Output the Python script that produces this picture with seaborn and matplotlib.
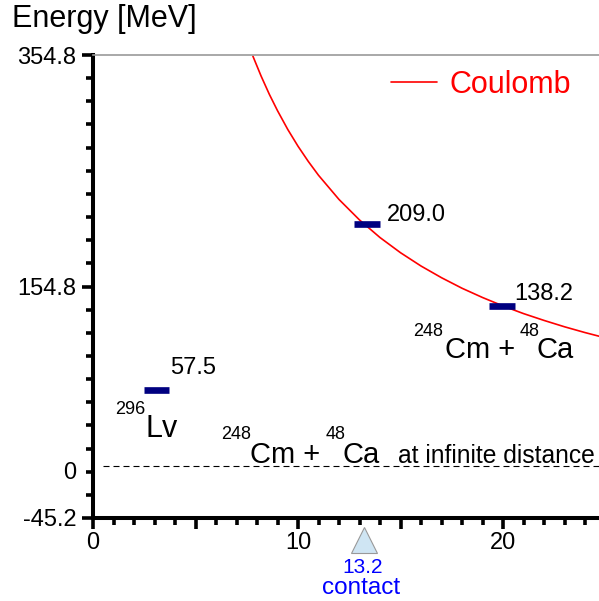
import matplotlib
matplotlib.use("Agg")
import matplotlib.pyplot as plt
import seaborn as sns
import pandas as pd
import numpy as np
from matplotlib import transforms
from matplotlib.ticker import FixedLocator, FixedFormatter, MultipleLocator

# Coulomb barrier curve (distance in fm, energy in MeV)
coulomb_r = [7.8, 8.2, 8.6, 9.0, 9.5, 10.0, 10.5, 11.0, 12.0, 13.0, 14.0, 15.0,
             16.0, 17.0, 18.0, 19.0, 20.0, 21.0, 22.0, 23.0, 24.0, 25.0]
coulomb_e = [353.8, 336.6, 320.9, 306.7, 290.5, 276.0, 262.9, 250.9, 230.0, 212.3,
             197.1, 184.0, 172.5, 162.4, 153.3, 145.3, 138.0, 131.4, 125.5, 120.0,
             115.0, 110.4]

# energy levels (navy bars) - the Lv bar sits a bit above its 57.5 label value
level_r = [3.1, 13.35, 19.95]
level_e = [65.5, 209.0, 138.2]
level_labels = ["57.5", "209.0", "138.2"]

contact_r = 13.2
y_ticks = [-45.2, 0, 154.8, 354.8]
y_ticklabels = ["-45.2", "0", "154.8", "354.8"]
x_ticks = [0, 5, 10, 15, 20]
x_ticklabels = ["0", "", "10", "", "20"]

W, H = 599, 601
FONT = ["Liberation Sans", "DejaVu Sans"]

sns.set_theme(style="ticks")
plt.rcParams["font.family"] = FONT
plt.rcParams["text.color"] = "black"
plt.rcParams["xtick.color"] = "black"
plt.rcParams["ytick.color"] = "black"

fig = plt.figure(figsize=(W / 100, H / 100), dpi=100)
ax = fig.add_axes([93 / W, 1 - 518 / H, (W - 93) / W, (518 - 55) / H])

df = pd.DataFrame({"r": coulomb_r, "E": coulomb_e})
sns.lineplot(data=df, x="r", y="E", ax=ax, color="#ff0000", lw=1.2,
             sort=False, label="Coulomb")

# levels
for r, e in zip(level_r, level_e):
    ax.hlines(e, r - 0.63, r + 0.63, color="#000080", lw=4.8, capstyle="butt")

# reference at infinite distance
ax.hlines(0, 0.5, 25, color="black", lw=0.8, linestyles=(0, (5.4, 3.6)))

ax.set_xlim(0, (W - 93) / 20.5)
ax.set_ylim(y_ticks[0], y_ticks[-1])
ax.set_xlabel("")
ax.set_ylabel("")

for s in ["left", "bottom"]:
    ax.spines[s].set_linewidth(2.9)
    ax.spines[s].set_color("black")
ax.spines["right"].set_visible(False)
ax.spines["top"].set_color("#999999")
ax.spines["top"].set_linewidth(1.2)

ax.xaxis.set_major_locator(FixedLocator(x_ticks))
ax.xaxis.set_major_formatter(FixedFormatter(x_ticklabels))
ax.xaxis.set_minor_locator(MultipleLocator(1))
ax.yaxis.set_major_locator(FixedLocator(y_ticks))
ax.yaxis.set_major_formatter(FixedFormatter(y_ticklabels))
ax.yaxis.set_minor_locator(FixedLocator(list(np.arange(-45.2, 355, 20))))
ax.tick_params(axis="both", which="major", length=8, width=2.6, color="black",
               labelsize=17, labelcolor="black")
ax.tick_params(axis="both", which="minor", length=5, width=2.6, color="black")
ax.tick_params(axis="y", which="major", pad=4)
ax.tick_params(axis="x", which="major", pad=2)

# the "0" label has no tick of its own and sits a little low
zero_tick = ax.yaxis.get_major_ticks()[1]
zero_tick.tick1line.set_visible(False)
zero_tick.label1.set_transform(zero_tick.label1.get_transform() +
                               transforms.ScaledTranslation(0, -5 / 100, fig.dpi_scale_trans))

leg = ax.legend(loc="center left", bbox_to_anchor=(391 / W, 1 - 85 / H),
                bbox_transform=fig.transFigure, frameon=False, fontsize=22,
                handlelength=1.5, handletextpad=0.4, borderpad=0,
                borderaxespad=0, labelcolor="#ff0000")


def ptext(x, y, s, size, **kw):
    kw.setdefault("va", "baseline")
    fig.text(x / W, 1 - y / H, s, fontsize=size, **kw)


ptext(12, 27, "Energy [MeV]", 22)

ptext(170, 374, level_labels[0], 17)
ptext(387, 221, level_labels[1], 17)
ptext(514, 300, level_labels[2], 17)

ptext(115, 414, "296", 13)
ptext(145, 437, "Lv", 22)

ptext(221, 439, "248", 13)
ptext(250, 463, "Cm +", 21)
ptext(326, 439, "48", 13)
ptext(343, 463, "Ca", 21)
ptext(398, 463, "at infinite distance", 17.7)

ptext(413, 336, "248", 13)
ptext(445, 358, "Cm +", 21)
ptext(520, 336, "48", 13)
ptext(537, 358, "Ca", 21)

# contact marker below the axis
trans = transforms.blended_transform_factory(ax.transData, fig.transFigure)
ax.plot([contact_r], [1 - 540 / H], marker="^", ms=18.7, color="#cfe5f3",
        mec="#999999", mew=0.8, transform=trans, clip_on=False)
ptext(363, 573, f"{contact_r}", 15, ha="center", color="#0000ff")
ptext(361, 594, "contact", 17.5, ha="center", color="#0000ff")

fig.savefig("out.png", dpi=100)
